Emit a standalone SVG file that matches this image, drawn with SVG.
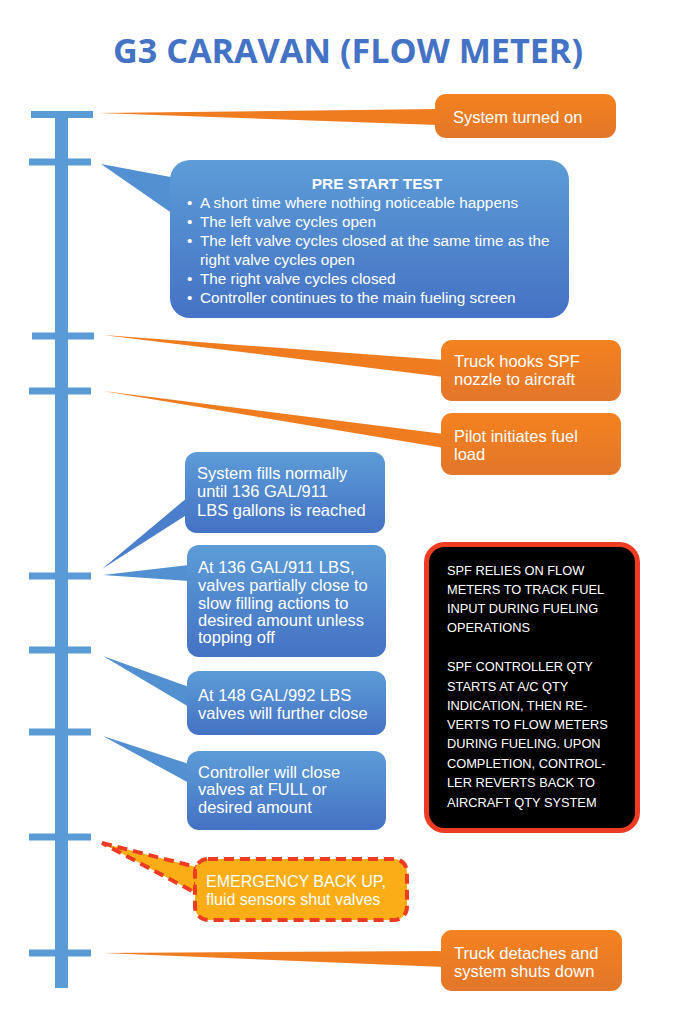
<svg xmlns="http://www.w3.org/2000/svg" width="700" height="1011" viewBox="0 0 700 1011">
<defs>
<linearGradient id="gOr" x1="0" y1="0" x2="0" y2="1"><stop offset="0" stop-color="#F5821F"/><stop offset="1" stop-color="#E2762A"/></linearGradient>
<linearGradient id="gBl" x1="0" y1="0" x2="0" y2="1"><stop offset="0" stop-color="#5D9CD7"/><stop offset="1" stop-color="#4472C4"/></linearGradient>
<style>
.t{font-family:"Liberation Sans",Arial,sans-serif;fill:#fff}
.or{fill:url(#gOr)}
.bl{fill:url(#gBl)}
.ow{fill:#F07C20}
.bw{fill:#5390D2}
.tl{fill:#5B9BD5}
.o{font-size:16.5px}
.b{font-size:16.5px}
.p{font-size:15.3px}
.k{font-size:12.8px}
</style>
</defs>
<rect width="700" height="1011" fill="#fff"/>
<text x="348" y="63" text-anchor="middle" font-family="'Open Sans','Liberation Sans',sans-serif" font-weight="bold" font-size="34" fill="#4472C4" textLength="470" lengthAdjust="spacingAndGlyphs">G3 CARAVAN (FLOW METER)</text>
<g id="timeline">
<rect class="tl" x="55" y="114" width="13" height="874"/>
<rect class="tl" x="31" y="111" width="62" height="7"/>
<rect class="tl" x="29" y="158.5" width="62" height="7"/>
<rect class="tl" x="32" y="332.5" width="62" height="7"/>
<rect class="tl" x="29" y="387.5" width="62" height="7"/>
<rect class="tl" x="29" y="572.5" width="62" height="7"/>
<rect class="tl" x="29" y="646.5" width="62" height="7"/>
<rect class="tl" x="29" y="728.5" width="62" height="7"/>
<rect class="tl" x="29" y="833.5" width="62" height="7"/>
<rect class="tl" x="29" y="949.5" width="62" height="7"/>
</g>
<g id="connectors">
<polygon class="ow" points="99,113 438,109 438,125"/>
<polygon class="bw" points="101,164 176,178 176,216"/>
<polygon class="ow" points="103,335 444,360 444,377"/>
<polygon class="ow" points="103,391 444,434 444,448"/>
<polygon fill="#4B7FCB" points="102,569 188,497 188,514"/>
<polygon class="bw" points="103,575 189,565 189,581"/>
<polygon class="bw" points="103,656 189,687 189,707"/>
<polygon class="bw" points="103,736 189,764 189,783"/>
<polygon fill="#FBAD18" stroke="#EE3B24" stroke-width="4" stroke-dasharray="10,6" points="102,843 196,867 196,893"/>
<polygon class="ow" points="103,953 444,951 444,967"/>
</g>
<g id="n1">
<rect class="or" x="435" y="94" width="181" height="44" rx="11"/>
<text class="t o" x="453" y="123">System turned on</text>
</g>
<g id="n2">
<rect class="bl" x="170" y="160" width="399" height="158" rx="20"/>
<text class="t" x="377" y="189" text-anchor="middle" font-weight="bold" font-size="15.5">PRE START TEST</text>
<g class="t p">
<text x="187" y="208">•</text><text x="200" y="208">A short time where nothing noticeable happens</text>
<text x="187" y="227">•</text><text x="200" y="227">The left valve cycles open</text>
<text x="187" y="246">•</text><text x="200" y="246">The left valve cycles closed at the same time as the</text>
<text x="200" y="265">right valve cycles open</text>
<text x="187" y="284">•</text><text x="200" y="284">The right valve cycles closed</text>
<text x="187" y="303">•</text><text x="200" y="303">Controller continues to the main fueling screen</text>
</g>
</g>
<g id="n3">
<rect class="or" x="441" y="340" width="180" height="61" rx="11"/>
<text class="t o" x="454" y="367">Truck hooks SPF</text>
<text class="t o" x="454" y="385">nozzle to aircraft</text>
</g>
<g id="n4">
<rect class="or" x="441" y="413" width="180" height="62" rx="11"/>
<text class="t o" x="454" y="442">Pilot initiates fuel</text>
<text class="t o" x="454" y="460">load</text>
</g>
<g id="n5">
<rect class="bl" x="185" y="452" width="200" height="81" rx="12"/>
<text class="t b" x="197" y="479">System fills normally</text>
<text class="t b" x="197" y="497">until 136 GAL/911</text>
<text class="t b" x="197" y="516">LBS gallons is reached</text>
</g>
<g id="n6">
<rect class="bl" x="187" y="545" width="199" height="112" rx="12"/>
<text class="t b" x="198" y="573">At 136 GAL/911 LBS,</text>
<text class="t b" x="198" y="591">valves partially close to</text>
<text class="t b" x="198" y="609">slow filling actions to</text>
<text class="t b" x="198" y="626">desired amount unless</text>
<text class="t b" x="198" y="643">topping off</text>
</g>
<g id="n7">
<rect class="bl" x="187" y="671" width="199" height="64" rx="12"/>
<text class="t b" x="198" y="701">At 148 GAL/992 LBS</text>
<text class="t b" x="198" y="719">valves will further close</text>
</g>
<g id="n8">
<rect class="bl" x="187" y="751" width="199" height="79" rx="12"/>
<text class="t b" x="198" y="778">Controller will close</text>
<text class="t b" x="198" y="795">valves at FULL or</text>
<text class="t b" x="198" y="813">desired amount</text>
</g>
<g id="n9">
<rect x="426.5" y="544.5" width="211" height="286" rx="18" fill="#000" stroke="#EE3B24" stroke-width="5"/>
<g class="t k">
<text x="447" y="575">SPF RELIES ON FLOW</text>
<text x="447" y="594">METERS TO TRACK FUEL</text>
<text x="447" y="613">INPUT DURING FUELING</text>
<text x="447" y="632">OPERATIONS</text>
<text x="447" y="671">SPF CONTROLLER QTY</text>
<text x="447" y="691">STARTS AT A/C QTY</text>
<text x="447" y="710">INDICATION, THEN RE-</text>
<text x="447" y="729">VERTS TO FLOW METERS</text>
<text x="447" y="748">DURING FUELING. UPON</text>
<text x="447" y="768">COMPLETION, CONTROL-</text>
<text x="447" y="787">LER REVERTS BACK TO</text>
<text x="447" y="807">AIRCRAFT QTY SYSTEM</text>
</g>
</g>
<g id="n10">
<rect x="195" y="859" width="212" height="61" rx="13" fill="#FBAD18" stroke="#EE3B24" stroke-width="4" stroke-dasharray="10,6"/>
<text class="t" x="206" y="887" font-size="16">EMERGENCY BACK UP,</text>
<text class="t" x="206" y="905" font-size="16">fluid sensors shut valves</text>
</g>
<g id="n11">
<rect class="or" x="441" y="930" width="181" height="61" rx="11"/>
<text class="t o" x="454" y="959">Truck detaches and</text>
<text class="t o" x="454" y="977">system shuts down</text>
</g>
</svg>
